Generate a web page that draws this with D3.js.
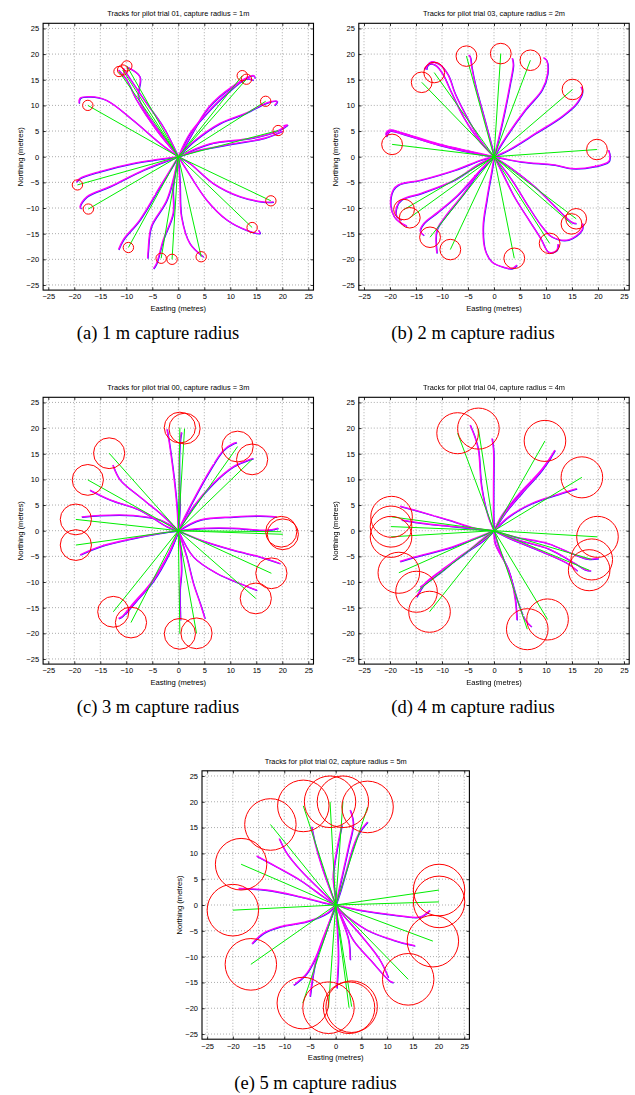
<!DOCTYPE html>
<html>
<head>
<meta charset="utf-8">
<script src="https://cdn.jsdelivr.net/npm/d3@7"></script>
<style>
  html, body { margin: 0; padding: 0; background: #fff; }
  svg { display: block; }
</style>
</head>
<body>
<svg id="fig" width="635" height="1095"></svg>
<script>
// ---- shared axis ticks ----
const tickValues = [-25, -20, -15, -10, -5, 0, 5, 10, 15, 20, 25];

// ---- titles and captions ----
const titles = [
  "Tracks for pilot trial 01, capture radius = 1m",
  "Tracks for pilot trial 03, capture radius = 2m",
  "Tracks for pilot trial 00, capture radius = 3m",
  "Tracks for pilot trial 04, capture radius = 4m",
  "Tracks for pilot trial 02, capture radius = 5m"
];
const captions = [
  "(a) 1 m capture radius",
  "(b) 2 m capture radius",
  "(c) 3 m capture radius",
  "(d) 4 m capture radius",
  "(e) 5 m capture radius"
];
const captureRadius = [1, 2, 3, 4, 5];

// ---- waypoint targets (easting, northing in metres) ----
const targetsA = [[-11.4,16.6],[-10.7,16.9],[-9.9,17.7],[12.3,15.8],[13.1,15.1],[16.8,10.8],[19.2,5.1],
  [-17.4,10.0],[-19.4,-5.5],[-17.3,-10.2],[17.8,-8.6],[14.2,-13.8],[-9.6,-17.7],[-3.3,-19.8],[-1.2,-20.0],[4.4,-19.5]];
const targetsB = [[-5.3,19.6],[1.3,20.1],[7.0,18.8],[15.1,13.1],[19.8,1.4],[-11.5,16.4],[-13.9,14.5],[-19.6,2.4],
  [-17.3,-10.3],[-16.2,-11.9],[-12.3,-15.7],[-8.4,-18.1],[3.9,-19.8],[10.7,-16.9],[14.9,-13.1],[15.8,-12.1]];
const targetsC = [[0.3,20.1],[1.2,19.9],[11.4,16.4],[14.2,13.9],[-13.3,15.1],[-17.4,9.9],[-19.7,2.2],[-19.7,-2.8],
  [19.8,-0.2],[20.1,-0.7],[17.9,-8.3],[14.9,-13.2],[-12.5,-15.8],[-9.1,-17.9],[0.3,-20.1],[3.5,-20.0]];
const targetsD = [[-7,19],[-3,19.9],[9.8,17.5],[16.9,10.4],[19.9,-1.2],[18.8,-5.6],[18.3,-7.7],[-19.7,2.7],
  [-19.8,0.8],[-19.8,-1.2],[-18.3,-8.2],[-14.9,-11.9],[-12.4,-15.8],[6.4,-19.2],[10.3,-17.3]];
const targetsE = [[-12.7,15.6],[-6.3,19.2],[-1.1,20],[1.4,20],[6.2,19],[-18.4,7.9],[-20,-1],[-16.5,-11.5],
  [20.1,2.9],[20.1,0.6],[18.9,-7],[14.1,-14.4],[-6.4,-19],[-1.4,-19.9],[2.6,-19.9],[3.1,-19.7]];

// ---- flown tracks (easting, northing in metres) ----
const tracksA = [
  [[0,0],[-2.9,5.8],[-6.1,10.4],[-8.7,14.3],[-10.6,17.2]],
  [[0,0],[-4.2,5.2],[-8,11],[-9.9,14.9],[-11.5,16.9]],
  [[0,0],[-3,4],[-6.1,8.4],[-7.7,11.7],[-7.4,15.6],[-9.9,17.5]],
  [[0,0],[2.2,4.5],[5.4,8.4],[9.3,12.3],[13.1,15.2],[14.4,14.9]],
  [[0,0],[1.5,2.5],[5.8,9.6],[10.3,13.6],[14.5,15.8],[14.7,15.3]],
  [[0,0],[3,3],[8,6.5],[13,8.5],[17,10.5],[19,10.8],[18.5,10]],
  [[0,0],[6,2.5],[14,3.6],[19,5],[21,6.2],[20.2,6]],
  [[0,0],[4,1.3],[11,2.6],[16.5,3.6],[20,5]],
  [[0,0],[2.2,-1.3],[6.7,-5.2],[11.9,-7.8],[16.3,-8.8],[18.3,-8.8]],
  [[0,0],[1.6,-2.6],[5.4,-8.4],[9.3,-12.3],[13.1,-14.3],[15.7,-14.9],[15.4,-14.3]],
  [[0,0],[0.3,-5.2],[0.6,-11.7],[2.2,-16.9],[4.8,-19.5]],
  [[0,0],[-1,-6],[-1,-11],[-2.9,-16.2],[-4.2,-20.8],[-4.8,-21.8]],
  [[0,0],[-2.2,-8.4],[-5.2,-13.6],[-5.8,-18.2],[-5.9,-19.8]],
  [[0,0],[-3.5,-5.8],[-7.4,-12.3],[-10.6,-16.2],[-11.5,-18.1]],
  [[0,0],[-6.7,-2.6],[-13.1,-5.8],[-17.6,-7.8],[-18.9,-9.7],[-18.7,-10.1]],
  [[0,0],[-8.7,-1.3],[-15.1,-2.9],[-18.9,-4.2],[-19.6,-4.9]],
  [[0,0],[-3.5,2.6],[-8.7,7.1],[-13.8,11],[-17,11.7],[-18.9,11.4],[-19.1,10.4]]
];
const tracksB = [
  [[0,0],[-0.4,1.9],[-2.1,8.4],[-3.5,13.6],[-4.3,17.5],[-4.6,19.5],[-4.9,19.8]],
  [[0,0],[0.8,3.2],[2.1,9.1],[3.1,14.3],[3.7,17.9],[3.5,19.2]],
  [[0,0],[1.5,2.6],[6,9.1],[9.2,13],[10.3,16.2],[10.1,18.8],[9.5,19.3]],
  [[0,0],[2.8,1.3],[7.9,4.5],[13,7.8],[15.9,10.4],[17,12.7],[16.7,13.6]],
  [[0,0],[5.3,-1],[11.7,-1.6],[14.9,-2.3],[19.4,-1.9],[22,-1],[22.3,0],[22,1.3]],
  [[0,0],[-2.5,3],[-4.9,7.1],[-7.5,12.3],[-8.8,15.9],[-10.5,18],[-12,18.5],[-12.8,17.8],[-13,17]],
  [[0,0],[-3,3.3],[-5.8,7.6],[-8.2,12.5],[-9.8,16],[-11.2,17.8],[-12.4,18.1],[-13.4,17.1]],
  [[0,0],[-4.3,1],[-10.7,2.5],[-17.8,4.7],[-20,5.2],[-20.8,4.5],[-20.6,3.9]],
  [[0,0],[-4.3,0.8],[-10.7,2.3],[-17.5,4.4],[-20,5],[-20.6,4.2]],
  [[0,0],[-2.4,-0.6],[-7.5,-2.6],[-13.9,-4.5],[-18.4,-5.5],[-19.4,-6.5],[-19.9,-9.4],[-19.2,-11.7],[-18.1,-12.8],[-16.8,-13.5]],
  [[0,0],[-3,-1.5],[-7.5,-4.5],[-13.9,-7.1],[-17.8,-8.4],[-18.7,-9.7],[-18.7,-11.7],[-17.8,-12.3]],
  [[0,0],[-2.6,-2.6],[-6.3,-7.8],[-9.4,-11.7],[-11,-14.3],[-11,-18.8]],
  [[0,0],[-3,-3],[-7,-7.5],[-10.8,-10.8],[-13.5,-13],[-14.2,-14.5],[-13.5,-15.3]],
  [[0,0],[-0.4,-2.6],[-1.4,-8.4],[-2.1,-13.6],[-1.7,-18.2],[-0.4,-20.5],[2.1,-21.6],[3.4,-21.8],[4.4,-21.1]],
  [[0,0],[1.5,-3],[4,-8],[6.8,-12.5],[9,-16],[10.5,-18.6],[12,-18.3],[12.3,-17]],
  [[0,0],[3.4,-4.5],[6.6,-9.7],[9.2,-13.6],[11.1,-15.6],[14.3,-16.2],[16.9,-14.3],[17,-13]],
  [[0,0],[3,-2],[8,-6],[12,-10],[15,-12.8],[15.8,-13]]
];
const tracksC = [
  [[0,0],[-0.3,5],[-0.8,10],[-1.3,14],[-1.8,17.5],[-2.2,19.8]],
  [[0,0],[0.3,5],[0.2,10],[0.2,15],[0.4,18],[0.6,19.2]],
  [[0,0],[0.6,1.4],[2.9,6],[6.1,11.8],[8.7,15.7],[10.6,17],[11.2,17.2]],
  [[0,0],[2.9,4.7],[6.7,9.2],[10.6,12.5],[13.8,13.9],[14.4,14.1]],
  [[0,0],[-3.5,3.4],[-7.4,6.6],[-11.2,9.9],[-12.6,12.8]],
  [[0,0],[-2.2,0.8],[-7.4,4],[-13.1,6],[-17,7.9]],
  [[0,0],[-3.5,2.1],[-8.7,3],[-15.1,3],[-18.6,2.7]],
  [[0,0],[-3.5,-0.5],[-8.7,-1.5],[-15.1,-3.1],[-18.9,-4.7]],
  [[0,0],[4.2,2.1],[10.6,2.7],[15.7,2.9],[18.9,2.7]],
  [[0,0],[5.4,0.5],[10.6,0.5],[17,0.1],[19.2,0.5]],
  [[0,0],[4.2,-1.8],[10.6,-3.8],[15.7,-5.1],[19.6,-6.4]],
  [[0,0],[2.9,-5.1],[7.4,-8.3],[11.9,-10.3],[15.1,-11.6]],
  [[0,0],[-2.2,-5.1],[-5.4,-10.3],[-8.7,-14.2],[-10.9,-16.8],[-11.5,-17.1]],
  [[0,0],[-1.8,-4.5],[-4.8,-9.8],[-8.2,-13.8],[-10.2,-16.2]],
  [[0,0],[0.3,-2.5],[0.6,-7.7],[0.3,-11.6],[0.4,-17.4]],
  [[0,0],[1.6,-5.1],[2.9,-10.3],[4.2,-14.2],[5.1,-17.1]]
];
const tracksD = [
  [[0,0],[-1.1,2.7],[-2.4,8.6],[-3,15.7],[-3.7,18.3],[-4.6,20.6]],
  [[0,0],[-0.1,2.7],[-0.1,8.6],[-0.1,15.7],[-0.4,18]],
  [[0,0],[2.1,3.4],[5.3,7.3],[9.2,11.8],[11.7,15.7]],
  [[0,0],[1.5,3],[4.8,7.2],[8.8,11.5],[11,14.5]],
  [[0,0],[2.8,2.7],[7.2,5.3],[13,7.3],[15.9,8.2]],
  [[0,0],[4,-1.2],[10.4,-2.5],[15.6,-4.7],[18,-5.5],[20.1,-5.4]],
  [[0,0],[4,-1.6],[10.4,-3.5],[15.6,-6.4],[17.5,-7.6],[18.6,-7.8]],
  [[0,0],[3,-1.5],[9,-4],[14,-6.3],[16,-7.8]],
  [[0,0],[0.2,-2.5],[2.8,-7.7],[4,-12.9],[4.4,-17.4]],
  [[0,0],[0.8,-3],[3,-8.5],[4.7,-14.2],[6,-17.4],[7.2,-18.7]],
  [[0,0],[-3.7,0.5],[-8.8,2.1],[-15.2,4],[-18.1,4.8]],
  [[0,0],[-7.5,0.8],[-13.3,1.4],[-17.8,2.1]],
  [[0,0],[-3.7,-1.5],[-8.8,-3.4],[-15.2,-5.1],[-18.1,-6]],
  [[0,0],[-1.7,-1.2],[-5.6,-4.4],[-10.1,-7.7],[-13.3,-10.3],[-14.9,-12.9]],
  [[0,0],[-2.2,-2],[-6.5,-5],[-10.8,-8.5],[-14.2,-11]]
];
const tracksE = [
  [[0,0],[-3,2.9],[-6.9,6.8],[-9.5,10],[-11,12.9]],
  [[0,0],[-2.4,1.6],[-6.9,4.8],[-11.5,7.4],[-15.4,9.5]],
  [[0,0],[-1.7,0.3],[-6.9,1.6],[-13.4,2.9],[-18.9,3.2]],
  [[0,0],[-1.1,2.9],[-2.7,7.4],[-4,11.9],[-4.7,15.2]],
  [[0,0],[-0.1,1.6],[-0.5,5.5],[0.2,10.6],[1.2,15.5]],
  [[0,0],[0.5,2.3],[1.5,6.8],[2.5,11.3],[3.4,15.8],[2.8,18.4]],
  [[0,0],[0.8,2.3],[2.1,6.8],[3.4,11.3],[4.7,14.2],[6.2,16.1]],
  [[0,0],[4.7,-1],[11.2,-1.9],[16.4,-2.3],[18.3,-1]],
  [[0,0],[0.8,-1],[6,-4.8],[11.2,-6.8],[15.4,-7.9]],
  [[0,0],[0.8,-1.6],[3.4,-6.8],[6.7,-10.6],[10.6,-14.8],[11.2,-15]],
  [[0,0],[-1.7,-1.6],[-5.6,-3.2],[-10.8,-4.2],[-14.1,-5.5],[-16.3,-7.5]],
  [[0,0],[-1.1,-2.9],[-3,-8.1],[-5.6,-13.2],[-8.2,-15.5]],
  [[0,0],[-1.1,-2.9],[-3.7,-10],[-5,-17.7]],
  [[0,0],[0.2,-2.9],[0.5,-10],[0.2,-16.1]],
  [[0,0],[1.2,-2.9],[2.5,-6.8],[2.8,-10.6]],
  [[0,0],[1.5,-2],[5,-6],[8.5,-10.5],[10.2,-14]]
];

const allTargets = [targetsA, targetsB, targetsC, targetsD, targetsE];
const allTracks = [tracksA, tracksB, tracksC, tracksD, tracksE];

// ---- page layout: plot boxes and caption anchors ----
const boxes = [
  { x0: 43.1,  x1: 313.5, y0: 23.3,  y1: 290.1, cx: 158,   cy: 339 },
  { x0: 358.8, x1: 629.2, y0: 23.3,  y1: 290.1, cx: 473,   cy: 339 },
  { x0: 43.1,  x1: 313.5, y0: 397.3, y1: 664.1, cx: 158,   cy: 712.6 },
  { x0: 358.8, x1: 629.2, y0: 397.3, y1: 664.1, cx: 473,   cy: 712.6 },
  { x0: 202,   x1: 469.4, y0: 770.8, y1: 1039.2, cx: 315.5, cy: 1089 }
];

const svg = d3.select("#fig");
const sansFont = "'Liberation Sans', Arial, Helvetica, sans-serif";
const serifFont = "'Liberation Serif', 'Times New Roman', serif";
const fmt = d3.format("d");
const line = d3.line().curve(d3.curveCatmullRom.alpha(0.5));

// light roughening so the logged tracks read as noisy GPS traces
const defs = svg.append("defs");
const rough = defs.append("filter").attr("id", "rough")
  .attr("x", "-5%").attr("y", "-5%").attr("width", "110%").attr("height", "110%");
rough.append("feTurbulence").attr("type", "fractalNoise").attr("baseFrequency", 1.1)
  .attr("numOctaves", 1).attr("seed", 3).attr("result", "n");
rough.append("feDisplacementMap").attr("in", "SourceGraphic").attr("in2", "n")
  .attr("scale", 1.6).attr("xChannelSelector", "R").attr("yChannelSelector", "G");

boxes.forEach((b, i) => {
  const x = d3.scaleLinear().domain([-26, 26]).range([b.x0, b.x1]);
  const y = d3.scaleLinear().domain([-26, 26]).range([b.y1, b.y0]);
  const g = svg.append("g");
  const w = b.x1 - b.x0, h = b.y1 - b.y0;

  // dotted grid
  const grid = g.append("g").attr("stroke", "#7a7a7a").attr("stroke-width", 0.7)
    .attr("stroke-dasharray", "0.9,2.1");
  tickValues.forEach(t => {
    grid.append("line").attr("x1", x(t)).attr("x2", x(t)).attr("y1", b.y0).attr("y2", b.y1);
    grid.append("line").attr("y1", y(t)).attr("y2", y(t)).attr("x1", b.x0).attr("x2", b.x1);
  });

  // axes with inward ticks on all four sides
  const tl = 2.7;
  const axB = g.append("g").attr("transform", `translate(0,${b.y1})`)
    .call(d3.axisBottom(x).tickValues(tickValues).tickFormat(fmt).tickSizeInner(-tl).tickSizeOuter(0).tickPadding(4));
  const axT = g.append("g").attr("transform", `translate(0,${b.y0})`)
    .call(d3.axisTop(x).tickValues(tickValues).tickFormat("").tickSizeInner(-tl).tickSizeOuter(0));
  const axL = g.append("g").attr("transform", `translate(${b.x0},0)`)
    .call(d3.axisLeft(y).tickValues(tickValues).tickFormat(fmt).tickSizeInner(-tl).tickSizeOuter(0).tickPadding(4));
  const axR = g.append("g").attr("transform", `translate(${b.x1},0)`)
    .call(d3.axisRight(y).tickValues(tickValues).tickFormat("").tickSizeInner(-tl).tickSizeOuter(0));
  [axB, axT, axL, axR].forEach(a => {
    a.select(".domain").remove();
    a.selectAll(".tick line").attr("stroke", "#000").attr("stroke-width", 0.8);
    a.selectAll("text").attr("font-family", sansFont).attr("font-size", 7.5).attr("fill", "#000");
  });

  // flown tracks: blue trace with magenta overlay
  const clipId = "clip" + i;
  defs.append("clipPath").attr("id", clipId).append("rect")
    .attr("x", b.x0).attr("y", b.y0).attr("width", w).attr("height", h);
  const tg = g.append("g").attr("clip-path", `url(#${clipId})`);
  const tr = allTracks[i];
  const trk = tg.append("g").attr("filter", "url(#rough)");
  trk.selectAll("path.blue").data(tr).join("path")
    .attr("class", "blue")
    .attr("d", d => line(d.map(p => [x(p[0]), y(p[1])])))
    .attr("fill", "none").attr("stroke", "#2a1cff").attr("stroke-width", 1.2)
    .attr("transform", "translate(0.5,0.5)");
  trk.selectAll("path.mag").data(tr).join("path")
    .attr("class", "mag")
    .attr("d", d => line(d.map(p => [x(p[0]), y(p[1])])))
    .attr("fill", "none").attr("stroke", "#ff00ff").attr("stroke-width", 1.35)
    .attr("stroke-linejoin", "round");

  // straight-line headings from origin to each target
  const tgts = allTargets[i];
  tg.selectAll("line.hd").data(tgts).join("line")
    .attr("class", "hd")
    .attr("x1", x(0)).attr("y1", y(0))
    .attr("x2", d => x(d[0])).attr("y2", d => y(d[1]))
    .attr("stroke", "#00ee00").attr("stroke-width", 1);

  // capture circles
  const r = captureRadius[i];
  const rx = x(r) - x(0), ry = y(0) - y(r);
  tg.selectAll("ellipse").data(tgts).join("ellipse")
    .attr("cx", d => x(d[0])).attr("cy", d => y(d[1]))
    .attr("rx", rx).attr("ry", ry)
    .attr("fill", "none").attr("stroke", "#ff0000").attr("stroke-width", 1);

  // frame
  g.append("rect").attr("x", b.x0).attr("y", b.y0).attr("width", w).attr("height", h)
    .attr("fill", "none").attr("stroke", "#000").attr("stroke-width", 1.1);

  // title, axis labels, caption
  g.append("text").attr("x", (b.x0 + b.x1) / 2).attr("y", b.y0 - 7)
    .attr("text-anchor", "middle").attr("font-family", sansFont).attr("font-size", 7.4)
    .text(titles[i]);
  g.append("text").attr("x", (b.x0 + b.x1) / 2).attr("y", b.y1 + 21)
    .attr("text-anchor", "middle").attr("font-family", sansFont).attr("font-size", 7.6)
    .text("Easting (metres)");
  g.append("text")
    .attr("transform", `translate(${b.x0 - 20.5},${(b.y0 + b.y1) / 2}) rotate(-90)`)
    .attr("text-anchor", "middle").attr("font-family", sansFont).attr("font-size", 7.6)
    .text("Northing (metres)");
  svg.append("text").attr("x", b.cx).attr("y", b.cy)
    .attr("text-anchor", "middle").attr("font-family", serifFont).attr("font-size", 18.5)
    .text(captions[i]);
});
</script>
</body>
</html>
